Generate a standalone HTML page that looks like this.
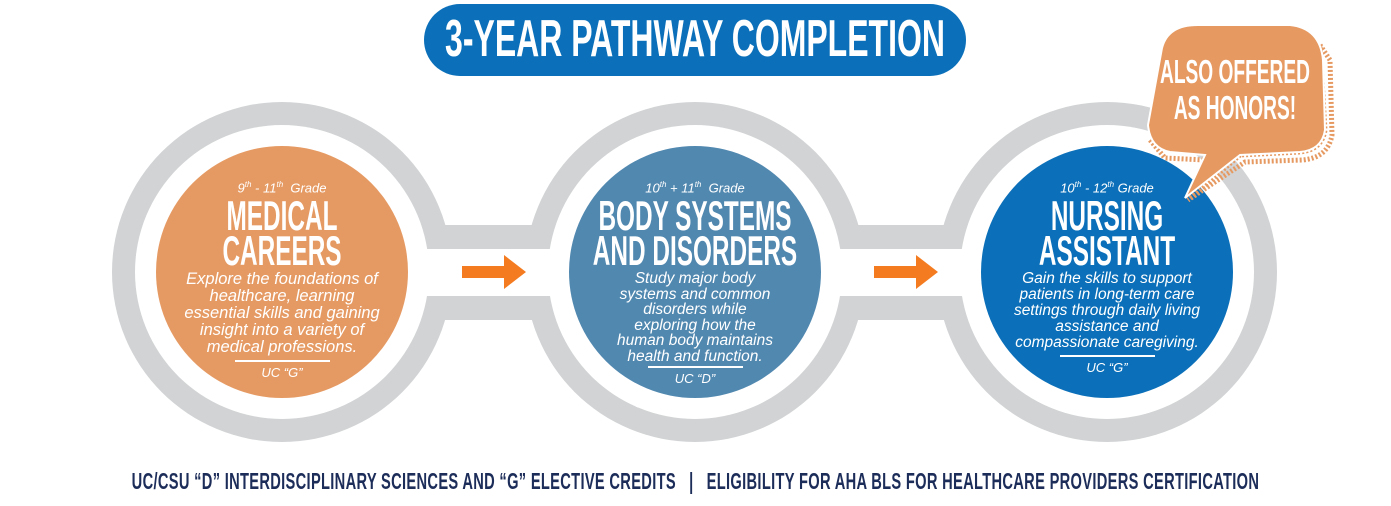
<!DOCTYPE html>
<html><head><meta charset="utf-8"><style>
body{margin:0;width:1391px;height:506px;background:#fff;overflow:hidden;position:relative;font-family:"Liberation Sans",sans-serif}
.abs{position:absolute}
.cond{font-family:"Liberation Sans Narrow","Liberation Sans",sans-serif;font-weight:bold;white-space:nowrap}
.c{position:absolute;text-align:center;color:#fff;width:260px}
.g{font-style:italic;font-size:13px}
.h{font-size:42px;line-height:35px;width:700px;margin-left:-220px;margin-top:3px;margin-bottom:3px;transform:scaleX(0.58);transform-origin:50% 50%}
.b{font-style:italic;font-size:16.5px;line-height:17px}
.u{font-style:italic;font-size:13px}
.hr{height:1.5px;background:#fff;margin:4px auto 3px}
</style></head><body>
<svg class="abs" style="left:0;top:0" width="1391" height="506">
<rect x="270" y="225" width="850" height="95" fill="#d1d3d4"/>
<rect x="270" y="249" width="850" height="47" fill="#fff"/>
<circle cx="282" cy="272" r="170" fill="#d1d3d4"/><circle cx="282" cy="272" r="147" fill="#fff"/>
<circle cx="695" cy="272" r="170" fill="#d1d3d4"/><circle cx="695" cy="272" r="147" fill="#fff"/>
<circle cx="1107" cy="272" r="170" fill="#d1d3d4"/><circle cx="1107" cy="272" r="147" fill="#fff"/>
<rect x="420" y="249" width="130" height="47" fill="#fff"/>
<rect x="833" y="249" width="130" height="47" fill="#fff"/>
<circle cx="282" cy="272" r="126" fill="#e69a63"/>
<circle cx="695" cy="272" r="126" fill="#5188b0"/>
<circle cx="1107" cy="272" r="126" fill="#0b70b9"/>
<path d="M462 266h42v-11l22 17-22 17v-11h-42z" fill="#f47b20"/>
<path d="M874 266h42v-11l22 17-22 17v-11h-42z" fill="#f47b20"/>
<path d="M1320 45 L1330 60 L1332 135 Q1328 158 1302 160 L1245 162 L1188 200 L1240 155 L1300 152 Q1322 150 1325 130 Z" fill="none" stroke="#e69a62" stroke-width="5" stroke-dasharray="2 2"/>
<path d="M1150 140 L1165 158 L1205 160" fill="none" stroke="#e69a62" stroke-width="5" stroke-dasharray="2 2"/>
<path d="M1162 48 Q1168 24 1200 25 L1290 25 Q1320 28 1323 60 L1325 130 Q1322 150 1300 152 L1240 155 L1185 198 L1205 155 L1170 152 Q1150 148 1148 125 Z" fill="#e69a62" stroke="#fff" stroke-width="2"/>
</svg>
<div class="abs" style="left:424px;top:4px;width:542px;height:72px;border-radius:36px;background:#0b70b9"></div>
<div class="abs cond" style="left:195px;top:10px;width:1000px;text-align:center;color:#fff;font-size:52px;line-height:58px;transform:scaleX(0.615)">3-YEAR PATHWAY COMPLETION</div>
<div class="abs cond" style="left:1035px;top:54px;width:400px;text-align:center;color:#fff;font-size:33px;line-height:36px;transform:scaleX(0.58)">ALSO OFFERED<br>AS HONORS!</div>

<div class="c" style="left:152px;top:180px"><div class="g">9<sup style="font-size:8px">th</sup> - 11<sup style="font-size:8px">th</sup>&nbsp; Grade</div><div class="h cond">MEDICAL<br>CAREERS</div><div class="b">Explore the foundations of<br>healthcare, learning<br>essential skills and gaining<br>insight into a variety of<br>medical professions.</div><div class="hr" style="width:95px"></div><div class="u">UC “G”</div></div>

<div class="c" style="left:565px;top:180px"><div class="g">10<sup style="font-size:8px">th</sup> + 11<sup style="font-size:8px">th</sup>&nbsp; Grade</div><div class="h cond">BODY SYSTEMS<br>AND DISORDERS</div><div class="b" style="font-size:15.5px;line-height:15.5px">Study major body<br>systems and common<br>disorders while<br>exploring how the<br>human body maintains<br>health and function.</div><div class="hr" style="width:95px;margin-top:2px"></div><div class="u">UC “D”</div></div>

<div class="c" style="left:977px;top:180px"><div class="g">10<sup style="font-size:8px">th</sup> - 12<sup style="font-size:8px">th</sup> Grade</div><div class="h cond">NURSING<br>ASSISTANT</div><div class="b" style="font-size:15.5px;line-height:16px">Gain the skills to support<br>patients in long-term care<br>settings through daily living<br>assistance and<br>compassionate caregiving.</div><div class="hr" style="width:95px"></div><div class="u">UC “G”</div></div>

<div class="abs cond" style="left:-600px;top:466px;width:2591px;text-align:center;color:#1d2d5a;font-size:23px;line-height:30px;transform:scaleX(0.637);letter-spacing:0.5px">UC/CSU “D” INTERDISCIPLINARY SCIENCES AND “G” ELECTIVE CREDITS &nbsp;&nbsp;| &nbsp;&nbsp;ELIGIBILITY FOR AHA BLS FOR HEALTHCARE PROVIDERS CERTIFICATION</div>
</body></html>
